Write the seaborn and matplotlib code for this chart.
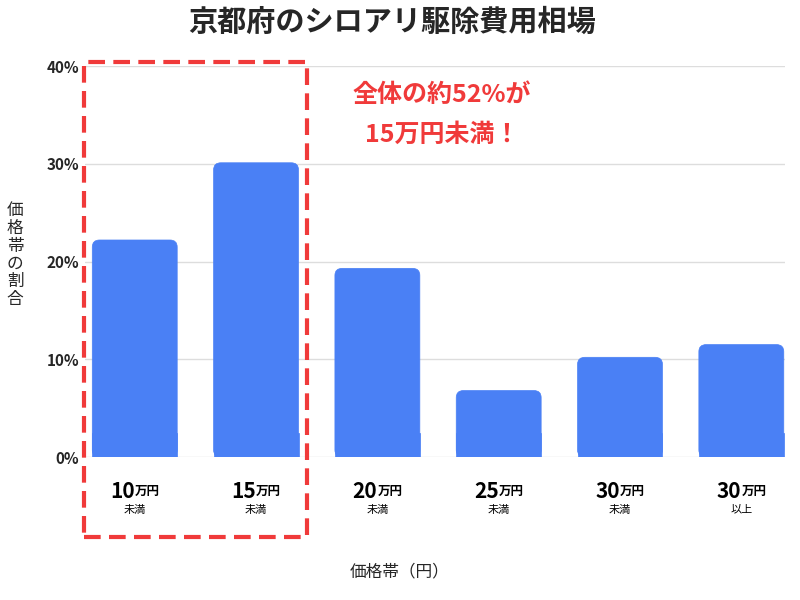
import matplotlib
matplotlib.use("Agg")
import matplotlib.pyplot as plt
import seaborn as sns
import pandas as pd
from matplotlib.patches import FancyBboxPatch, Rectangle

categories = ["10", "15", "20", "25", "30", "30"]
sublabels = ["未満", "未満", "未満", "未満", "未満", "以上"]
values = [22.2, 30.1, 19.3, 6.8, 10.2, 11.5]
yticks = [0, 10, 20, 30, 40]

sns.set_theme(style="white")
plt.rcParams['font.family'] = ['Noto Sans CJK JP', 'DejaVu Sans']

fig = plt.figure(figsize=(8, 6), dpi=100)
ax = fig.add_axes([85/800, 1-457/600, 700/800, 391/600])
df = pd.DataFrame({"pos": list(range(len(values))), "v": values})
sns.barplot(data=df, x="pos", y="v", color="#4a80f5", width=0.70, ax=ax, native_scale=True)
col = "#4a80f5"
for p in list(ax.patches):
    x, y, w, h = p.get_x(), p.get_y(), p.get_width(), p.get_height()
    p.set_visible(False)
    r = 0.06
    asp = 12
    ax.add_patch(FancyBboxPatch((x + r, y + r*asp), w - 2*r, h - 2*r*asp,
                                boxstyle=f"round,pad={r},rounding_size={r}",
                                mutation_aspect=asp, fc=col, ec=col, lw=0.5, zorder=3))
    ax.add_patch(Rectangle((x, y), w, min(h, 2.5), fc=col, ec=col, lw=0.5, zorder=3))
ax.set_xlim(-0.41, 5.36)
ax.set_ylim(0, 40)
ax.set_yticks(yticks)
ax.set_yticklabels([f"{t}%" for t in yticks], fontsize=11, fontweight="bold")
ax.yaxis.grid(True, color="#dddddd", lw=1)
ax.set_axisbelow(True)
for s in ax.spines.values():
    s.set_visible(False)
ax.tick_params(axis="y", length=0, pad=4)
ax.set_xticks(range(len(values)))
ax.set_xticklabels([])
ax.tick_params(axis="x", length=0)
ax.set_xlabel("")
ax.set_ylabel("")
tr = ax.get_xaxis_transform()
for i, (c, s) in enumerate(zip(categories, sublabels)):
    ax.text(i, -0.088, c, transform=tr, ha="right", va="center", fontsize=15, fontweight="bold", color="black")
    ax.text(i, -0.088, "万円", transform=tr, ha="left", va="center", fontsize=9, fontweight="bold", color="black")
    ax.text(i, -0.135, s, transform=tr, ha="center", va="center", fontsize=8, color="black")

fig.text(0.49, 1-22/600, "京都府のシロアリ駆除費用相場", ha="center", va="center", fontsize=21, fontweight="bold")
fig.text(15/800, 1-255/600, "価\n格\n帯\nの\n割\n合", ha="center", va="center", fontsize=12, linespacing=1.05)
fig.text(0.5, 1-572/600, "価格帯（円）", ha="center", va="center", fontsize=12)
fig.text(442/800, 1-95/600, "全体の約52%が", ha="center", va="center", fontsize=18, fontweight="bold", color="#f03a3a")
fig.text(442/800, 1-135/600, "15万円未満！", ha="center", va="center", fontsize=18, fontweight="bold", color="#f03a3a")
fig.add_artist(Rectangle((84/800, 1-537/600), 223/800, 475/600, transform=fig.transFigure, fill=False,
                         ec="#f03a3a", lw=3, ls=(0, (4, 2))))
fig.savefig("out.png", dpi=100)
